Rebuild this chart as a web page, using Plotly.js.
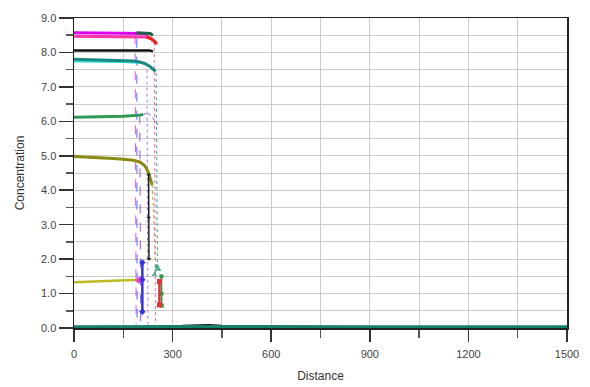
<!DOCTYPE html>
<html>
<head>
<meta charset="utf-8">
<script src="https://cdn.plot.ly/plotly-3.0.1.min.js"></script>
<style>
  html, body { margin: 0; padding: 0; background: #ffffff; }
  #chart { width: 590px; height: 387px; }
</style>
</head>
<body>
<div id="chart"></div>
<script>
// Concentration profiles along the distance axis

// Plateau sections of each profile
const magentaX = [0, 30, 60, 90, 120, 150, 180, 200, 215, 225];
const magentaY = [8.57, 8.57, 8.57, 8.57, 8.57, 8.57, 8.57, 8.56, 8.55, 8.52];
const pinkX = [0, 30, 60, 90, 120, 150, 180, 200, 215, 230];
const pinkY = [8.47, 8.47, 8.47, 8.47, 8.47, 8.47, 8.47, 8.46, 8.45, 8.42];
const redX = [225, 232, 238, 244, 250];
const redY = [8.45, 8.42, 8.38, 8.33, 8.27];
const darkGreenX = [190, 205, 220, 232, 240];
const darkGreenY = [8.57, 8.57, 8.57, 8.55, 8.50];
const blackX = [0, 30, 60, 90, 120, 150, 180, 200, 215, 230, 240];
const blackY = [8.06, 8.06, 8.06, 8.06, 8.06, 8.06, 8.06, 8.06, 8.05, 8.06, 8.03];
const tealX = [0, 30, 60, 90, 120, 150, 180, 200, 215, 230, 240, 248];
const tealY = [7.80, 7.79, 7.78, 7.78, 7.77, 7.76, 7.75, 7.72, 7.68, 7.60, 7.52, 7.45];
const cyanX = [0, 30, 60, 90, 120, 150, 180, 200];
const cyanY = [7.74, 7.74, 7.73, 7.73, 7.72, 7.72, 7.71, 7.70];
const greenX = [0, 30, 60, 90, 120, 150, 180, 200, 210];
const greenY = [6.12, 6.12, 6.13, 6.13, 6.14, 6.15, 6.16, 6.18, 6.20];
const oliveX = [0, 30, 60, 90, 120, 150, 180, 200, 215, 225, 232, 238];
const oliveY = [4.98, 4.97, 4.95, 4.94, 4.92, 4.90, 4.87, 4.82, 4.72, 4.55, 4.35, 4.15];
const yellowX = [0, 30, 60, 90, 120, 150, 180, 200];
const yellowY = [1.33, 1.34, 1.35, 1.35, 1.36, 1.37, 1.38, 1.40];

// Breakthrough fronts
const frontMagentaX = [186, 187, 188, 189];
const frontMagentaY = [8.5, 5.5, 2.5, 0.1];
const frontBlueX = [191, 191, 192, 192];
const frontBlueY = [8.4, 5.0, 2.5, 0.3];
const frontPurpleX = [200, 201, 202, 203];
const frontPurpleY = [6.2, 4.5, 2.0, 0.2];
const frontVioletX = [222, 223, 224, 225];
const frontVioletY = [7.5, 5.5, 3.0, 0.1];
const frontPinkX = [244, 245, 246, 248];
const frontPinkY = [8.3, 6.0, 3.0, 0.2];
const frontTealX = [250, 251, 252, 254];
const frontTealY = [7.4, 5.5, 3.5, 1.8];
const frontOliveX = [238, 242, 245, 248];
const frontOliveY = [4.15, 3.5, 2.7, 1.9];
const frontBlackX = [227, 227, 228];
const frontBlackY = [4.45, 3.2, 2.0];
const frontGreenX = [210, 225, 240, 255];
const frontGreenY = [6.2, 6.25, 6.1, 5.9];
const lowBlueX = [208, 208, 208];
const lowBlueY = [1.9, 1.4, 0.47];
const lowPinkX = [196, 200, 204];
const lowPinkY = [1.38, 1.40, 1.42];
const lowGreenX = [266, 266, 267];
const lowGreenY = [1.5, 1.0, 0.65];
const lowRedX = [260, 260];
const lowRedY = [1.35, 0.67];
const lowTealX = [245, 252, 258];
const lowTealY = [1.55, 1.8, 1.7];

// Base level along the whole column
const baseBlackX = [330, 370, 410, 450];
const baseBlackY = [0.05, 0.07, 0.07, 0.05];
const baseX = [0, 100, 200, 300, 450, 600, 900, 1200, 1500];
const baseY = [0.02, 0.03, 0.04, 0.03, 0.03, 0.02, 0.02, 0.02, 0.02];

// Axis ticks
const xTickVals = [0, 300, 600, 900, 1200, 1500];
const xTickText = ['0', '300', '600', '900', '1200', '1500'];
const yTickVals = [0, 1, 2, 3, 4, 5, 6, 7, 8, 9];
const yTickText = ['0.0', '1.0', '2.0', '3.0', '4.0', '5.0', '6.0', '7.0', '8.0', '9.0'];

function line(x, y, color, width, dash, marker) {
  const t = {
    x: x, y: y, type: 'scatter', mode: marker ? 'lines+markers' : 'lines',
    line: { color: color, width: width, dash: dash || 'solid' },
    hoverinfo: 'skip', showlegend: false
  };
  if (marker) t.marker = { color: color, size: marker.size || 4, symbol: marker.symbol || 'circle' };
  return t;
}

const traces = [
  line(frontMagentaX, frontMagentaY, '#ee55ee', 1, 'dash'),
  line(frontBlueX, frontBlueY, '#5566ff', 1, 'dash'),
  line(frontPurpleX, frontPurpleY, '#9955dd', 1, 'dash'),
  line(frontVioletX, frontVioletY, '#aa77ee', 1, 'dot'),
  line(frontPinkX, frontPinkY, '#ee66aa', 1, 'dot'),
  line(frontTealX, frontTealY, '#449999', 1, 'dot'),
  line(frontOliveX, frontOliveY, '#aaaa33', 1, 'dot'),
  line(yellowX, yellowY, '#bbbb22', 2.5),
  line(lowPinkX, lowPinkY, '#ee44cc', 2, 'solid', { size: 5, symbol: 'diamond' }),
  line(lowBlueX, lowBlueY, '#3333dd', 2.5, 'solid', { size: 5, symbol: 'diamond' }),
  line(lowTealX, lowTealY, '#44aa88', 1.5, 'solid', { size: 5, symbol: 'triangle-up' }),
  line(lowGreenX, lowGreenY, '#339944', 1.5, 'solid', { size: 4, symbol: 'square' }),
  line(lowRedX, lowRedY, '#dd3333', 2.5, 'solid', { size: 5, symbol: 'square' }),
  line(oliveX, oliveY, '#8a8a10', 3),
  line(frontBlackX, frontBlackY, '#222222', 1.5, 'solid', { size: 4, symbol: 'triangle-down' }),
  line(greenX, greenY, '#2e9955', 3),
  line(frontGreenX, frontGreenY, '#6655cc', 1, 'dot'),
  line(cyanX, cyanY, '#33dddd', 2),
  line(tealX, tealY, '#1a8a80', 3),
  line(blackX, blackY, '#111111', 2.5),
  line(pinkX, pinkY, '#ff33aa', 3),
  line(magentaX, magentaY, '#dd00ee', 3),
  line(darkGreenX, darkGreenY, '#1f5f45', 3),
  line(redX, redY, '#ee2222', 3, 'solid', { size: 4, symbol: 'triangle-right' }),
  line(baseBlackX, baseBlackY, '#111111', 3),
  line(baseX, baseY, '#15806a', 4)
];

const fontFamily = 'Liberation Sans, Arial, sans-serif';

const layout = {
  width: 590, height: 387,
  margin: { l: 74, r: 23, t: 18, b: 59 },
  paper_bgcolor: '#ffffff', plot_bgcolor: '#ffffff',
  font: { family: fontFamily, size: 11, color: '#333333' },
  showlegend: false,
  xaxis: {
    range: [0, 1500], tickvals: xTickVals, ticktext: xTickText,
    ticks: 'outside', ticklen: 12, tickwidth: 1.5, tickcolor: '#333333',
    ticklabelstandoff: 3,
    showgrid: true, gridcolor: '#cccccc', gridwidth: 1,
    minor: { dtick: 150, tick0: 0, ticks: 'outside', ticklen: 8, tickcolor: '#555555', showgrid: true, gridcolor: '#cccccc', gridwidth: 1 },
    showline: true, linecolor: '#222222', linewidth: 1.5, mirror: true,
    zeroline: false,
    tickfont: { family: fontFamily, size: 11, color: '#444444' },
    title: { text: 'Distance', font: { family: fontFamily, size: 12, color: '#333333' }, standoff: 13 }
  },
  yaxis: {
    range: [0, 9], tickvals: yTickVals, ticktext: yTickText,
    ticks: 'outside', ticklen: 14, tickwidth: 1.5, tickcolor: '#333333',
    showgrid: true, gridcolor: '#cccccc', gridwidth: 1,
    minor: { dtick: 0.5, tick0: 0, ticks: 'outside', ticklen: 7, tickcolor: '#555555', showgrid: true, gridcolor: '#cccccc', gridwidth: 1 },
    showline: true, linecolor: '#222222', linewidth: 1.5, mirror: true,
    zeroline: false,
    tickfont: { family: fontFamily, size: 11, color: '#444444' },
    title: { text: 'Concentration', font: { family: fontFamily, size: 12, color: '#333333' }, standoff: 14 }
  }
};

Plotly.newPlot('chart', traces, layout, { displayModeBar: false, staticPlot: true });
</script>
</body>
</html>
